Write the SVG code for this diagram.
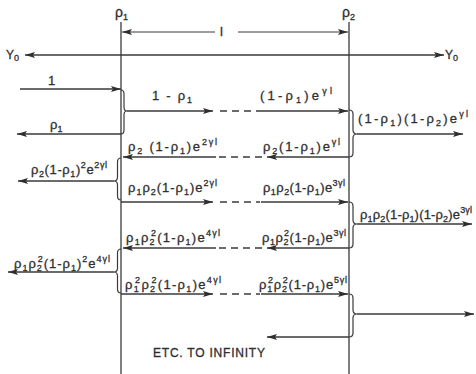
<svg xmlns="http://www.w3.org/2000/svg" width="476" height="374" viewBox="0 0 476 374">
<style>
.t{font-family:"Liberation Sans","DejaVu Sans",sans-serif;font-size:13px;fill:#2e2e2e;stroke:#2e2e2e;stroke-width:0.3}
.s{font-size:9px}
.ln{stroke:#3a3a3a;stroke-width:1.3;fill:none}
.ar{stroke:#3a3a3a;stroke-width:1.3;fill:none;marker-end:url(#ah)}
.ds{stroke:#3a3a3a;stroke-width:1.3;fill:none;stroke-dasharray:7 5}
.br{stroke:#3a3a3a;stroke-width:1.2;fill:none}
</style>
<defs>
<marker id="ah" viewBox="0 0 10 6" refX="10" refY="3" markerWidth="10" markerHeight="6" markerUnits="userSpaceOnUse" orient="auto-start-reverse">
<path d="M0,0 L10,3 L0,6 L2,3 z" fill="#2e2e2e"/>
</marker>
</defs>
<rect width="476" height="374" fill="#fff"/>

<g id="junction-1">
<line class="ln" x1="121" y1="22" x2="121" y2="374"/>
<text class="t" x="115" y="17" style="font-size:14px">ρ<tspan class="s" dy="3">1</tspan></text>
</g>
<g id="junction-2">
<line class="ln" x1="349" y1="22" x2="349" y2="374"/>
<text class="t" x="342" y="17" style="font-size:14px">ρ<tspan class="s" dy="3">2</tspan></text>
</g>

<g id="connectors">
<line class="ar" x1="215" y1="32" x2="122" y2="32" style="stroke-width:1"/>
<line class="ar" x1="238" y1="32" x2="348" y2="32" style="stroke-width:1"/>
<line class="ln" x1="25" y1="55" x2="444" y2="55" style="marker-start:url(#ah);marker-end:url(#ah)"/>
<line class="ar" x1="20" y1="89" x2="121" y2="89"/>
<line class="ar" x1="127" y1="111" x2="213" y2="111"/>
<line class="ds" x1="220" y1="111" x2="258" y2="111"/>
<line class="ar" x1="258" y1="111" x2="348" y2="111"/>
<line class="ar" x1="121" y1="134" x2="17" y2="134"/>
<line class="ar" x1="357" y1="134" x2="463" y2="134"/>
<line class="ar" x1="349" y1="157" x2="267" y2="157"/>
<line class="ds" x1="262" y1="157" x2="218" y2="157"/>
<line class="ar" x1="216" y1="157" x2="123" y2="157"/>
<line class="ar" x1="114" y1="181" x2="18" y2="181"/>
<line class="ar" x1="121" y1="202" x2="213" y2="202"/>
<line class="ds" x1="220" y1="202" x2="260" y2="202"/>
<line class="ar" x1="261" y1="202" x2="348" y2="202"/>
<line class="ar" x1="357" y1="224" x2="472" y2="224"/>
<line class="ar" x1="349" y1="248" x2="267" y2="248"/>
<line class="ds" x1="262" y1="248" x2="218" y2="248"/>
<line class="ar" x1="216" y1="248" x2="123" y2="248"/>
<line class="ar" x1="114" y1="272" x2="8" y2="272"/>
<line class="ar" x1="121" y1="294" x2="213" y2="294"/>
<line class="ds" x1="220" y1="294" x2="260" y2="294"/>
<line class="ar" x1="261" y1="294" x2="348" y2="294"/>
<line class="ar" x1="357" y1="314" x2="474" y2="314"/>
<line class="ar" x1="349" y1="337" x2="267" y2="337"/>
<path class="br" d="M121,90 Q124,90 124,94 L124,107 Q124,111 127,111 Q124,111 124,115 L124,130 Q124,134 121,134"/>
<path class="br" d="M121,158 Q117.5,158 117.5,162 L117.5,177 Q117.5,181 114,181 Q117.5,181 117.5,185 L117.5,196 Q117.5,200 121,200"/>
<path class="br" d="M121,249 Q117.5,249 117.5,253 L117.5,268 Q117.5,272 114,272 Q117.5,272 117.5,276 L117.5,289 Q117.5,293 121,293"/>
<path class="br" d="M349,110 Q353,110 353,114 L353,130 Q353,134 357,134 Q353,134 353,138 L353,153 Q353,157 349,157"/>
<path class="br" d="M349,202 Q353,202 353,206 L353,220 Q353,224 357,224 Q353,224 353,228 L353,244 Q353,248 349,248"/>
<path class="br" d="M349,294 Q353,294 353,298 L353,310 Q353,314 357,314 Q353,314 353,318 L353,333 Q353,337 349,337"/>
</g>

<g id="labels">
<text class="t" x="220" y="36" style="font-size:13px">l</text>
<text class="t" x="6" y="59" style="font-size:12px">Y<tspan class="s" dy="2">0</tspan></text>
<text class="t" x="445" y="59" style="font-size:12px">Y<tspan class="s" dy="2">0</tspan></text>
<text class="t" x="48" y="85">1</text>
<text class="t" x="50" y="129">ρ<tspan class="s" dy="3">1</tspan></text>

<text class="t" x="152" y="100" textLength="40" lengthAdjust="spacing">1 - ρ<tspan class="s" dy="3">1</tspan></text>
<text class="t" x="260" y="100" textLength="72" lengthAdjust="spacing">(1-ρ<tspan class="s" dy="3">1</tspan><tspan dy="-3">)e</tspan><tspan class="s" dy="-6">γl</tspan></text>
<text class="t" x="358" y="123" textLength="110" lengthAdjust="spacing">(1-ρ<tspan class="s" dy="3">1</tspan><tspan dy="-3">)(1-ρ</tspan><tspan class="s" dy="3">2</tspan><tspan dy="-3">)e</tspan><tspan class="s" dy="-6">γl</tspan></text>

<text class="t" x="128" y="151" textLength="89" lengthAdjust="spacing">ρ<tspan class="s" dy="3">2</tspan><tspan dy="-3"> (1-ρ</tspan><tspan class="s" dy="3">1</tspan><tspan dy="-3">)e</tspan><tspan class="s" dy="-6">2γl</tspan></text>
<text class="t" x="263" y="151" textLength="77" lengthAdjust="spacing">ρ<tspan class="s" dy="3">2</tspan><tspan dy="-3">(1-ρ</tspan><tspan class="s" dy="3">1</tspan><tspan dy="-3">)e</tspan><tspan class="s" dy="-6">γl</tspan></text>
<text class="t" x="31" y="174" textLength="76" lengthAdjust="spacing">ρ<tspan class="s" dy="3">2</tspan><tspan dy="-3">(1-ρ</tspan><tspan class="s" dy="3">1</tspan><tspan dy="-3">)</tspan><tspan class="s" dy="-6">2</tspan><tspan dy="6">e</tspan><tspan class="s" dy="-6">2γl</tspan></text>

<text class="t" x="128" y="192" textLength="89" lengthAdjust="spacing">ρ<tspan class="s" dy="3">1</tspan><tspan dy="-3">ρ</tspan><tspan class="s" dy="3">2</tspan><tspan dy="-3">(1-ρ</tspan><tspan class="s" dy="3">1</tspan><tspan dy="-3">)e</tspan><tspan class="s" dy="-6">2γl</tspan></text>
<text class="t" x="263" y="192" textLength="82" lengthAdjust="spacing">ρ<tspan class="s" dy="3">1</tspan><tspan dy="-3">ρ</tspan><tspan class="s" dy="3">2</tspan><tspan dy="-3">(1-ρ</tspan><tspan class="s" dy="3">1</tspan><tspan dy="-3">)e</tspan><tspan class="s" dy="-6">3γl</tspan></text>
<text class="t" x="360" y="219" textLength="112" lengthAdjust="spacing">ρ<tspan class="s" dy="3">1</tspan><tspan dy="-3">ρ</tspan><tspan class="s" dy="3">2</tspan><tspan dy="-3">(1-ρ</tspan><tspan class="s" dy="3">1</tspan><tspan dy="-3">)(1-ρ</tspan><tspan class="s" dy="3">2</tspan><tspan dy="-3">)e</tspan><tspan class="s" dy="-6">3γl</tspan></text>

<text class="t" x="126" y="242" textLength="94" lengthAdjust="spacing">ρ<tspan class="s" dy="3">1</tspan><tspan dy="-3">ρ</tspan><tspan class="s" dy="3">2</tspan><tspan class="s" dx="-5" dy="-9">2</tspan><tspan dy="6">(1-ρ</tspan><tspan class="s" dy="3">1</tspan><tspan dy="-3">)e</tspan><tspan class="s" dy="-6">4γl</tspan></text>
<text class="t" x="262" y="242" textLength="84" lengthAdjust="spacing">ρ<tspan class="s" dy="3">1</tspan><tspan dy="-3">ρ</tspan><tspan class="s" dy="3">2</tspan><tspan class="s" dx="-5" dy="-9">2</tspan><tspan dy="6">(1-ρ</tspan><tspan class="s" dy="3">1</tspan><tspan dy="-3">)e</tspan><tspan class="s" dy="-6">3γl</tspan></text>
<text class="t" x="14" y="268" textLength="96" lengthAdjust="spacing">ρ<tspan class="s" dy="3">1</tspan><tspan dy="-3">ρ</tspan><tspan class="s" dy="3">2</tspan><tspan class="s" dx="-5" dy="-9">2</tspan><tspan dy="6">(1-ρ</tspan><tspan class="s" dy="3">1</tspan><tspan dy="-3">)</tspan><tspan class="s" dy="-6">2</tspan><tspan dy="6">e</tspan><tspan class="s" dy="-6">4γl</tspan></text>

<text class="t" x="125" y="289" textLength="96" lengthAdjust="spacing">ρ<tspan class="s" dy="3">1</tspan><tspan class="s" dx="-5" dy="-9">2</tspan><tspan dy="6">ρ</tspan><tspan class="s" dy="3">2</tspan><tspan class="s" dx="-5" dy="-9">2</tspan><tspan dy="6">(1-ρ</tspan><tspan class="s" dy="3">1</tspan><tspan dy="-3">)e</tspan><tspan class="s" dy="-6">4γl</tspan></text>
<text class="t" x="259" y="289" textLength="88" lengthAdjust="spacing">ρ<tspan class="s" dy="3">1</tspan><tspan class="s" dx="-5" dy="-9">2</tspan><tspan dy="6">ρ</tspan><tspan class="s" dy="3">2</tspan><tspan class="s" dx="-5" dy="-9">2</tspan><tspan dy="6">(1-ρ</tspan><tspan class="s" dy="3">1</tspan><tspan dy="-3">)e</tspan><tspan class="s" dy="-6">5γl</tspan></text>

<text class="t" x="153" y="357" textLength="112" lengthAdjust="spacing" style="font-size:12px">ETC. TO INFINITY</text>
</g>
</svg>
